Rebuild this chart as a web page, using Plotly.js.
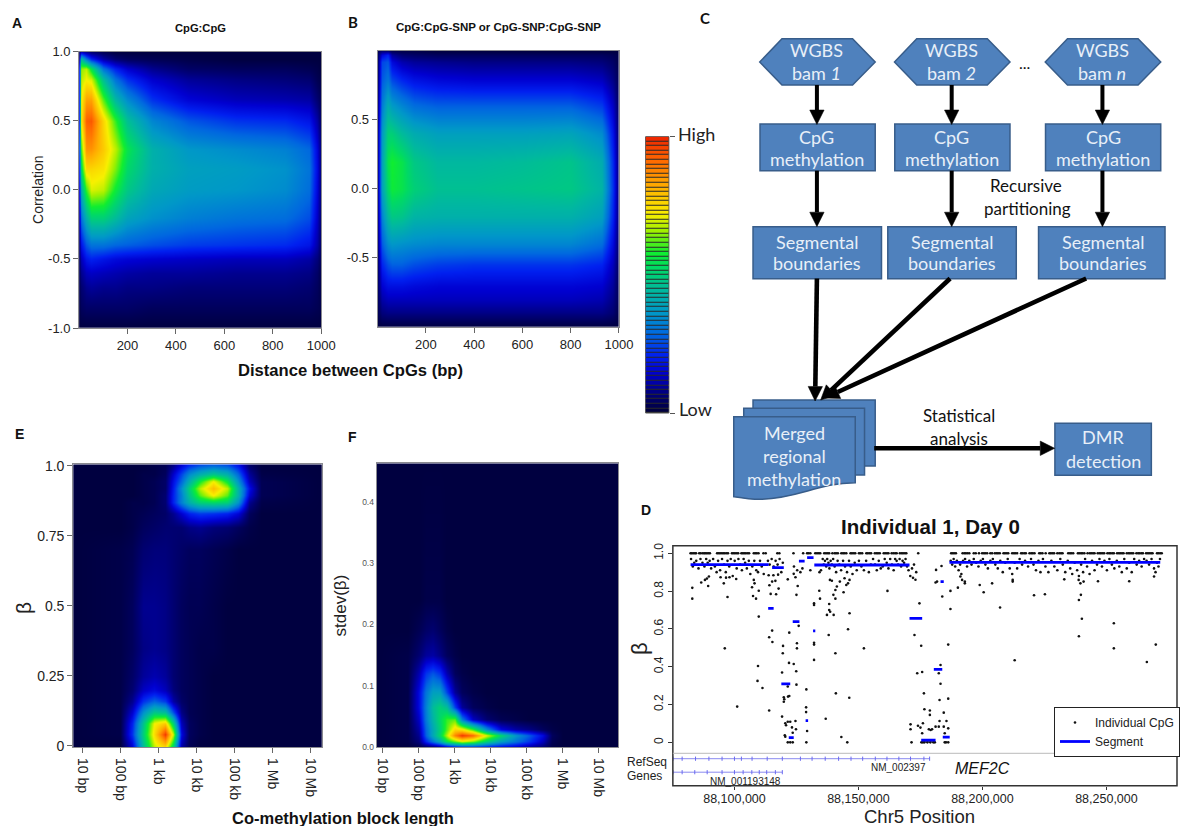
<!DOCTYPE html>
<html><head><meta charset="utf-8">
<script src="https://cdn.plot.ly/plotly-3.0.1.min.js"></script>
<style>html,body{margin:0;padding:0;background:#fff;overflow:hidden}#g{width:1180px;height:826px}</style>
</head><body><div id="g"></div>
<script>
const W=1180,H=826;
const scalePos=[0,.06,.14,.2,.28,.36,.44,.52,.58,.66,.72,.82,.92,1];
const scaleColors=['#000040','#00007a','#0000d0','#0020f0','#0068e0','#0098c8','#00b8a0','#00d868','#10ee30','#a0f000','#f8f000','#ffb000','#ff6800','#ee2800'];

// Panel A density
const aX=[0,10,30,50,100,150,200,300,450,650,850,950,985,1000];
const aY=[-1,-.85,-.7,-.6,-.5,-.4,-.2,0,.15,.3,.5,.65,.8,.88,.95,1];
const aZ=[
[0,0,0,0,0,0,0,0,0,0,0,0,0,0],
[.01,.03,.04,.04,.04,.04,.04,.03,.03,.03,.03,.03,.02,.01],
[.02,.05,.08,.09,.08,.08,.07,.07,.06,.06,.06,.05,.03,.01],
[.03,.08,.12,.13,.12,.11,.1,.09,.09,.08,.08,.07,.04,.01],
[.04,.12,.18,.2,.18,.16,.15,.14,.13,.12,.12,.1,.06,.02],
[.06,.18,.26,.3,.3,.28,.27,.25,.23,.22,.21,.18,.1,.03],
[.1,.3,.42,.5,.5,.45,.39,.35,.32,.3,.29,.25,.13,.04],
[.15,.42,.6,.7,.68,.57,.48,.4,.37,.36,.34,.29,.15,.05],
[.2,.54,.76,.76,.74,.64,.52,.42,.38,.37,.35,.3,.16,.05],
[.25,.62,.86,.86,.78,.68,.55,.42,.36,.34,.32,.28,.15,.05],
[.2,.74,.93,.94,.76,.6,.46,.33,.26,.22,.21,.18,.1,.03],
[.2,.72,.84,.84,.62,.44,.34,.22,.15,.12,.11,.1,.05,.02],
[.2,.68,.72,.7,.46,.3,.22,.14,.09,.07,.06,.05,.02,.01],
[.2,.65,.68,.55,.3,.2,.14,.08,.04,.03,.03,.02,.01,0],
[.1,.45,.3,.2,.1,.05,.03,.02,.01,0,0,0,0,0],
[.05,.12,.08,.05,.02,0,0,0,0,0,0,0,0,0]];

// Panel B density
const bX=[0,15,40,60,100,150,250,400,600,800,930,975,1000];
const bY=[-1,-.9,-.8,-.7,-.55,-.4,-.2,0,.2,.4,.6,.8,.92,.97,1];
const bZ=[
[0,0,0,0,0,0,0,0,0,0,0,0,0],
[.02,.06,.07,.07,.07,.07,.07,.07,.07,.07,.07,.05,.01],
[.03,.1,.12,.12,.12,.12,.12,.12,.12,.12,.11,.07,.02],
[.04,.14,.17,.17,.17,.16,.15,.15,.15,.15,.14,.09,.02],
[.05,.2,.25,.27,.27,.25,.23,.22,.22,.22,.2,.12,.03],
[.07,.26,.34,.36,.35,.34,.33,.33,.33,.33,.29,.16,.04],
[.09,.32,.44,.48,.47,.43,.42,.42,.42,.42,.38,.2,.05],
[.1,.38,.52,.57,.55,.5,.46,.46,.47,.48,.43,.22,.05],
[.1,.38,.55,.58,.55,.48,.44,.44,.45,.47,.41,.21,.05],
[.1,.36,.5,.5,.45,.41,.38,.38,.38,.39,.34,.18,.04],
[.08,.31,.41,.37,.33,.29,.27,.27,.27,.27,.23,.13,.03],
[.06,.26,.3,.24,.2,.17,.15,.14,.14,.14,.12,.07,.02],
[.05,.24,.26,.16,.11,.09,.08,.07,.07,.07,.06,.04,.01],
[.04,.15,.2,.09,.05,.04,.03,.03,.03,.03,.03,.02,.01],
[.02,.05,.05,.02,.01,.01,0,0,0,0,0,0,0]];

// Panel E density (x = log10 block length)
const eX=[.75,2,2.3,2.6,2.9,3.17,3.4,3.6,3.8,4.1,4.44,4.8,5.1,5.4,5.7,7.3];
const eY=[-.005,.04,.08,.12,.16,.2,.25,.35,.5,.7,.78,.83,.87,.895,.92,.945,.97,1.005];
const eZ=[
[0,0,.14,.45,.68,.75,.5,.1,.02,0,0,0,0,0,0,0],
[0,.01,.22,.5,.75,.98,.68,.16,.03,.01,0,0,0,0,0,0],
[0,.01,.2,.47,.72,.78,.5,.12,.03,.01,0,0,0,0,0,0],
[0,.01,.14,.35,.48,.45,.25,.07,.02,.01,0,0,0,0,0,0],
[0,.01,.08,.22,.28,.23,.1,.04,.02,.01,0,0,0,0,0,0],
[0,.01,.05,.13,.16,.12,.06,.03,.02,.01,0,0,0,0,0,0],
[0,.01,.04,.09,.11,.09,.05,.03,.02,.01,0,0,0,0,0,0],
[0,.01,.03,.07,.08,.07,.05,.03,.02,.01,.01,0,0,0,0,0],
[0,.01,.03,.08,.08,.07,.05,.03,.02,.02,.01,0,0,0,0,0],
[0,.01,.02,.05,.06,.06,.05,.04,.03,.03,.02,.01,0,0,0,0],
[0,0,.01,.03,.04,.05,.05,.05,.07,.08,.06,.05,.03,.01,0,0],
[0,0,.01,.02,.03,.04,.08,.14,.2,.23,.22,.2,.15,.03,0,0],
[0,0,.01,.01,.02,.05,.2,.32,.42,.5,.52,.5,.35,.08,.01,0],
[0,0,0,.01,.02,.05,.2,.32,.47,.62,.72,.62,.42,.14,.02,0],
[0,0,0,.01,.02,.04,.19,.34,.5,.68,.8,.68,.42,.17,.02,0],
[0,0,0,.01,.02,.04,.17,.28,.42,.58,.72,.56,.35,.12,.02,0],
[0,0,0,.01,.01,.03,.14,.24,.34,.42,.48,.42,.28,.09,.01,0],
[0,0,0,0,.01,.02,.07,.14,.2,.24,.26,.24,.17,.04,0,0]];

// Panel F density
const fX=[.84,1.7,2,2.2,2.4,2.6,2.8,3,3.2,3.5,3.9,4.3,4.7,5.1,5.45,5.7,6,7.56];
const fY=[0,.01,.02,.03,.045,.065,.09,.12,.15,.19,.24,.4625];
const fZ=[
[0,0,.01,.02,.03,.05,.1,.15,.16,.18,.16,.14,.12,.08,.05,.01,0,0],
[0,.01,.06,.2,.3,.4,.55,.62,.7,.64,.5,.38,.3,.22,.12,.02,0,0],
[0,.01,.08,.27,.4,.52,.68,.88,.98,.92,.7,.52,.36,.26,.16,.03,0,0],
[0,.01,.1,.28,.4,.5,.62,.76,.74,.6,.34,.16,.1,.07,.03,.01,0,0],
[0,.01,.13,.31,.43,.52,.6,.62,.32,.13,.05,.02,.01,0,0,0,0,0],
[0,.01,.16,.32,.45,.5,.46,.24,.09,.03,.01,0,0,0,0,0,0,0],
[0,.01,.16,.3,.38,.38,.24,.09,.03,.01,0,0,0,0,0,0,0,0],
[0,.01,.11,.22,.26,.22,.11,.03,.01,0,0,0,0,0,0,0,0,0],
[0,.01,.05,.09,.1,.07,.03,.01,0,0,0,0,0,0,0,0,0,0],
[0,0,.02,.04,.05,.03,.01,0,0,0,0,0,0,0,0,0,0,0],
[0,0,0,.01,.01,.01,0,0,0,0,0,0,0,0,0,0,0,0],
[0,0,0,0,0,0,0,0,0,0,0,0,0,0,0,0,0,0]];

const barLevels=[0,.017,.034,.051,.068,.085,.102,.119,.136,.153,.169,.186,.203,.22,.237,.254,.271,.288,.305,.322,.339,.356,.373,.39,.407,.424,.441,.458,.475,.492,.508,.525,.542,.559,.576,.593,.61,.627,.644,.661,.678,.695,.712,.729,.746,.763,.78,.797,.814,.831,.847,.864,.881,.898,.915,.932,.949,.966,.983,1];

// Panel D: scattered CpGs, position in kb after 88 Mb
const cpgKb=[83,83,86.6,88.1,88.9,89.4,89.7,94.4,95.7,96.6,98,97.2,96.1,100.7,101.1,107.8,108.1,107.1,109.8,107.5,108.7,109.8,109.5,109.3,111.3,114,114.1,115.2,116.5,114.6,116.8,117.8,113.8,115.7,117.6,114,115.2,115.3,119.6,119.5,119.2,122.1,122,123.9,124.9,125.2,125.2,125.9,125,125.5,124.6,123.9,121.5,125,119.9,120.1,119.9,121.6,122.1,121.5,119.2,120.5,121.5,122.5,124.6,120.8,120.3,120.5,121.5,122.5,123.5,123.2,124.8,123.5,129,128.9,128.9,129.3,129,132.1,132.1,132.1,132.1,132.1,134.2,134.5,136.8,137.3,138.2,138.2,138.6,140,138,140.7,139.9,140.7,141.3,140.7,140.9,143.1,145.5,146.3,145.8,146.4,144,145.1,145.8,146.4,144.4,142.5,139.3,138.5,152.2,161.7,174.6,172.6,175.3,173.7,175.7,176.4,176.6,178.8,178.8,171,171,171.4,174,175,176,175.7,178.4,179.1,179.7,181.1,182.4,182.7,184.4,182.7,186.2,183.1,182.4,183.1,186.2,183.8,181.1,181.7,181.3,183.5,187.1,187.1,190.1,185.5,184.4,186.2,184.8,184.8,185.3,186.2,175.4,176,176.6,177.2,177.8,178.4,179,179.6,180.2,180.8,198.9,200.5,203.9,207.1,213,220.8,225.2,238.9,239.7,240.1,238.9,253,253,266.3,269.9,269.2,259.2,246.6,212.2,212.2,191.1,191.8,192.9,192.9,233,239.5,240.8,238.8];
const cpgBeta=[.817,.76,.845,.859,.866,.827,.877,.873,.841,.871,.873,.769,.497,.864,.189,.859,.841,.82,.802,.774,.76,.665,.404,.325,.287,.168,.831,.85,.854,.785,.783,.813,.884,.884,.887,.556,.591,.531,.51,.471,.369,.58,.42,.414,.376,.524,.497,.616,.78,.827,.873,.891,.862,.305,.238,.228,.215,.242,.245,.295,.136,.101,.109,.109,.113,.09,.037,.03,0,0,0,.079,.069,.051,.28,.185,.16,.06,0,.735,.727,.527,.517,.436,.802,.76,.125,.674,.732,.7,.691,.674,.568,.806,.78,.76,.824,.471,.259,.028,0,.236,.598,.683,.794,.832,.841,.859,.868,.85,.855,.859,.497,.801,.735,.568,.511,.365,.372,.259,.175,.168,.145,.095,.069,0,.088,.078,.101,.048,.069,.065,.069,.083,.083,.113,.157,.224,.231,.31,.365,.409,.517,.771,.845,.85,.912,.933,.801,.705,.818,.113,.083,.074,.048,0,0,0,0,0,0,.01,0,.01,0,.01,0,0,.832,.794,.841,.713,.434,.778,.783,.753,.78,.654,.561,.63,.497,.425,.517,.877,.852,.852,.859,.85,.877,.859,.85,.841,.862,.841,.85,.859];
const bandKb=[82.5,83.2,83.8,84.6,85.5,86.3,87.1,87.9,88.6,89.2,90,90.6,91.4,92.1,92.8,93.4,94.2,95,95.8,96.5,97.2,97.9,98.5,99.3,100.1,100.9,101.6,102.3,103,103.7,104.3,105,105.8,106.4,107.2,108,108.8,109.5,110.3,111,111.8,113.5,114.2,115,115.8,116.6,117.4,118.2,118.9,119.5,124,125.3,126.6,127.4,130.6,134.3,134.9,135.6,136,136.5,137,137.4,137.9,138.3,138.8,139.3,139.8,140.4,141,141.6,142.3,143,143.8,144.6,145.4,146.2,146.9,147.6,148.5,149.3,150.2,151.2,152.2,153.1,154.2,155,155.9,156.7,157.4,158.2,159,159.8,160.6,161.4,162.1,162.8,163.5,164.2,164.8,165.4,166,166.6,167.2,167.8,168.4,169,169.6,170.2,170.9,171.6,172.4,173.3,172,173,187.2,187.8,188.4,189,189.7,190.4,191,191.5,192.2,193,193.8,194.7,195.6,196.5,197.5,198.4,199.3,200.2,201.2,202.2,203.2,204.2,205.2,206.2,207.2,208.2,209.2,210.2,211,212,213,214,215,216,217.2,218.4,219.6,220.6,221.6,222.6,223.4,224.4,225.4,226.6,227.8,229,230.2,231.4,232.4,233.4,234.4,235.4,236.2,237.2,238.2,238.9,239.8,240.6,241.4,242.2,243.2,244.2,245.2,246.2,247.2,248.2,249.2,250.2,251.2,252.2,253.2,254.2,255.2,256.2,257.2,258.2,259.2,260.2,261.2,262.2,263.2,264.2,265.2,266.2,267.2,268.2,269.2,269.8,270.4,271,271.6];
const bandBeta=[.97,.93,.95,.96,.92,.97,.95,.93,.97,.95,.96,.92,.97,.93,.9,.96,.91,.97,.94,.9,.96,.93,.97,.88,.96,.92,.97,.94,.91,.97,.95,.92,.96,.89,.93,.96,.91,.9,.96,.93,.89,.96,.94,.97,.93,.96,.94,.97,.9,.95,.93,.91,.9,.92,.91,.9,.91,.97,.94,.96,.93,.97,.95,.92,.96,.94,.97,.93,.9,.96,.94,.91,.96,.93,.9,.96,.93,.89,.95,.91,.96,.93,.91,.96,.9,.94,.97,.94,.91,.96,.92,.93,.97,.95,.92,.97,.94,.91,.97,.96,.94,.97,.93,.96,.95,.97,.93,.91,.88,.92,.94,.9,.87,.86,.96,.94,.97,.93,.96,.91,.94,.89,.96,.97,.93,.96,.94,.97,.95,.93,.96,.97,.94,.92,.96,.97,.94,.92,.96,.9,.95,.97,.92,.89,.95,.92,.97,.94,.96,.93,.97,.94,.91,.96,.9,.97,.93,.9,.96,.93,.91,.97,.94,.9,.96,.92,.89,.95,.91,.88,.94,.9,.97,.93,.89,.96,.91,.94,.97,.93,.96,.91,.97,.94,.92,.96,.93,.9,.97,.92,.95,.9,.97,.94,.96,.93,.97,.96,.94,.97,.92,.9,.95,.93,.97];
const topKb=[82.3,82.8,83.4,84,84.5,85.8,86.4,87.2,87.8,88.3,88.9,89.5,90.1,93,93.6,94.2,94.9,95.5,96.1,96.8,97.4,99,99.6,100.2,100.9,101.5,102.8,103.4,104,104.6,105.3,105.9,107.8,108.4,109,109.7,111.7,112.6,117.3,118.1,123.8,127.7,129.3,129.9,130.6,132.6,133.3,134,134.6,136.2,136.9,137.6,138.2,139.5,140.4,141,141.7,143.1,143.8,144.4,145.1,146.8,147.4,148.1,148.7,150.2,150.8,151.5,153.2,153.8,154.5,155.1,156.6,157.3,157.9,158.6,160.2,160.8,161.5,162.1,163.4,164.1,164.8,165.4,166.7,167.4,168,168.7,169.3,174.1,187.4,188,188.6,189.3,192,192.7,193.3,194,194.7,196.5,197.3,198.6,199.9,200.6,201.2,201.9,203.2,203.9,205,205.7,206.3,207,208.5,209.1,209.8,210.4,212,212.7,213.3,214,215.6,216.2,216.9,217.5,219,219.7,220.3,221,222.9,223.5,224.2,225.5,227,227.6,228.3,228.9,230.2,231,231.7,232.3,234.6,235.3,235.9,236.6,238.5,239.1,239.8,240.4,241.1,242.4,243.3,243.9,244.6,245.2,246.5,247.2,247.8,248.5,249.1,250.4,251.1,251.7,252.4,253,254.3,255,255.6,256.3,256.9,258.2,258.9,259.5,260.2,260.8,262.1,262.8,263.4,264.1,264.7,266,266.7,267.3,268,268.6,270.4,271,271.7,272.3];

// Panel D segments
const segStart=[82.3,115.2,113.6,118.9,123.5,121.9,126,129.3,131.7,128.7,132.2,170.6,175.3,180.4,183.1,184,186.7];
const segEnd=[113.8,119.9,115.8,122.5,126.2,123.9,128.3,131.9,132.6,129.7,170.6,175.7,181.1,183.8,184.4,186.8,271.7];
const segBeta=[.94,.924,.709,.309,.638,.025,.958,.977,.589,.115,.938,.656,.012,.386,.85,.028,.952];

// Panel D gene track
const geneA=[75.2,78.9,84.3,89.7,95,100,102.8,107.1,113.2,119.3,126.6,131.3,136.6,142,147,151.7,156.8,161.5,166.3,171,176.4,178.7];
const geneB=[75.2,78.9,84,89,95,100,103.5,107,110,113,116.5,119.3];

const scale=scalePos.map((p,i)=>[p,scaleColors[i]]);
const sans='"Liberation Sans",Arial,sans-serif', cal='Lato,"Open Sans",sans-serif';
const dx=(a,b)=>[a/W,b/W], dy=(t,b)=>[1-b/H,1-t/H];
const hm=(x,y,z,n)=>({type:'heatmap',x,y,z,zmin:0,zmax:1,zsmooth:'best',colorscale:scale,showscale:false,hoverinfo:'skip',xaxis:'x'+n,yaxis:'y'+n});

const segX=[],segY=[];
segStart.forEach((s,i)=>{segX.push(s,segEnd[i],null);segY.push(segBeta[i],segBeta[i],null);});
const allKb=cpgKb.concat(bandKb,topKb);
const allBeta=cpgBeta.concat(bandBeta,topKb.map(()=>1));

const traces=[
 hm(aX,aY,aZ,''),hm(bX,bY,bZ,'2'),hm(eX,eY,eZ,'3'),hm(fX,fY,fZ,'4'),
 {type:'heatmap',x:[0],y:barLevels.map((v,i)=>i),z:barLevels.map(v=>[v]),zmin:0,zmax:1,colorscale:scale,showscale:false,ygap:1,hoverinfo:'skip',xaxis:'x6',yaxis:'y6'},
 {type:'scatter',mode:'markers',name:'Individual CpG',x:allKb,y:allBeta,marker:{size:2.6,color:'#111'},xaxis:'x5',yaxis:'y5',hoverinfo:'skip'},
 {type:'scatter',mode:'lines',name:'Segment',x:segX,y:segY,line:{color:'#0000ff',width:2.8},xaxis:'x5',yaxis:'y5',hoverinfo:'skip',connectgaps:false},
 {type:'scatter',mode:'lines+markers',showlegend:false,x:geneA,y:geneA.map(()=>2),line:{color:'#8a8af0',width:1},marker:{symbol:'line-ns',size:3,line:{color:'#6a6af0',width:1}},xaxis:'x5',yaxis:'y7',hoverinfo:'skip'},
 {type:'scatter',mode:'lines+markers',showlegend:false,x:geneB,y:geneB.map(()=>1),line:{color:'#8a8af0',width:1},marker:{symbol:'line-ns',size:3,line:{color:'#6a6af0',width:1}},xaxis:'x5',yaxis:'y7',hoverinfo:'skip'}
];

const grey='#8a8a90';
const tf=(s,c)=>({family:sans,size:s,color:c||'#222'});
const frame={showline:true,mirror:true,linecolor:grey,linewidth:1,ticks:'outside',ticklen:5,tickcolor:'#666',showgrid:false,zeroline:false,fixedrange:true};
const logTicks=[1,2,3,4,5,6,7], logText=['10 bp','100 bp','1 kb','10 kb','100 kb','1 Mb','10 Mb'];
const ax=(o)=>Object.assign({},frame,o);
const layout={
 width:W,height:H,margin:{l:0,r:0,t:0,b:0},paper_bgcolor:'#fff',plot_bgcolor:'rgba(0,0,0,0)',
 font:{family:sans},showlegend:true,
 legend:{x:1056/W,y:1-707/H,xanchor:'left',yanchor:'top',bgcolor:'#fff',bordercolor:'#222',borderwidth:1,font:{family:sans,size:12,color:'#222'},tracegroupgap:0},
 xaxis:ax({domain:dx(79.2,321.7),range:[0,1000],tickvals:[200,400,600,800,1000],tickfont:tf(13),anchor:'y'}),
 yaxis:ax({domain:dy(51.7,328),range:[-1,1],tickvals:[-1,-.5,0,.5,1],ticktext:['-1.0','-0.5','0.0','0.5','1.0'],tickfont:tf(13),anchor:'x'}),
 xaxis2:ax({domain:dx(378.3,620),range:[0,1000],tickvals:[200,400,600,800,1000],tickfont:tf(13),anchor:'y2'}),
 yaxis2:ax({domain:dy(50.7,327),range:[-1,1],tickvals:[-.5,0,.5],ticktext:['-0.5','0.0','0.5'],tickfont:tf(13),anchor:'x2'}),
 xaxis3:ax({domain:dx(73.3,322.3),range:[.753,7.305],tickvals:logTicks,ticktext:logText,tickangle:90,tickfont:tf(14),ticklabelstandoff:2,anchor:'y3'}),
 yaxis3:ax({domain:dy(464.3,747.3),range:[-.005,1.005],tickvals:[0,.25,.5,.75,1],ticktext:['0','0.25','0.5','0.75','1.0'],tickfont:tf(14),anchor:'x3'}),
 xaxis4:ax({domain:dx(377.3,619.3),range:[.84,7.56],tickvals:logTicks,ticktext:logText,tickangle:90,tickfont:tf(14),ticklabelstandoff:2,anchor:'y4'}),
 yaxis4:ax({domain:dy(463.3,747.3),range:[0,.4625],tickvals:[0,.1,.2,.3,.4],ticktext:['0.0','0.1','0.2','0.3','0.4'],ticks:'',tickfont:tf(8.5,'#555'),anchor:'x4'}),
 xaxis5:{domain:dx(674,1179),range:[75.16,278.46],tickvals:[100,150,200,250],ticktext:['88,100,000','88,150,000','88,200,000','88,250,000'],tickfont:tf(12.5),ticks:'outside',ticklen:3,tickcolor:'#333',showgrid:false,zeroline:false,anchor:'y7',fixedrange:true,ticklabelstandoff:-2},
 yaxis5:{domain:dy(545.7,753.3),range:[-.058,1.04],tickvals:[0,.2,.4,.6,.8,1],ticktext:['0','0.2','0.4','0.6','0.8','1.0'],tickangle:-90,tickfont:tf(12),ticks:'outside',ticklen:4,tickcolor:'#333',showgrid:false,zeroline:false,anchor:'x5',fixedrange:true},
 yaxis7:{domain:dy(753.3,785.7),range:[0,2.4],visible:false,anchor:'x5',fixedrange:true},
 xaxis6:{domain:dx(646.7,670),range:[-.5,.5],showticklabels:false,ticks:'',showline:false,showgrid:false,zeroline:false,anchor:'y6',fixedrange:true},
 yaxis6:{domain:dy(136.7,413),range:[-.5,59.5],side:'right',tickvals:[-.5,59.5],showticklabels:false,ticks:'outside',ticklen:5,tickcolor:'#555',showgrid:false,zeroline:false,showline:false,anchor:'x6',fixedrange:true},
 shapes:[],annotations:[]
};

const P=(x,y)=>(x/W)+','+(1-y/H);
const S=layout.shapes, A=layout.annotations;
const poly=(pts,fill,line,lw,layer)=>S.push({type:'path',xref:'paper',yref:'paper',layer:layer||'above',path:'M'+pts.map(p=>P(p[0],p[1])).join('L')+'Z',fillcolor:fill,line:{color:line||fill,width:lw===undefined?1:lw}});
const BLUE='#4f81bd',EDGE='#385d8a';
const rect=(x0,y0,x1,y1)=>poly([[x0,y0],[x1,y0],[x1,y1],[x0,y1]],BLUE,EDGE,1.5);
const arrow=(x0,y0,x1,y1,w)=>{
 const L=Math.hypot(x1-x0,y1-y0),ux=(x1-x0)/L,uy=(y1-y0)/L,hl=14.5,hw=7.2,bx=x1-ux*hl,by=y1-uy*hl;
 S.push({type:'line',xref:'paper',yref:'paper',x0:x0/W,y0:1-y0/H,x1:bx/W,y1:1-by/H,line:{color:'#000',width:w||4},layer:'above'});
 poly([[x1,y1],[bx-uy*hw,by+ux*hw],[bx+uy*hw,by-ux*hw]],'#000','#000',.5);
};
const T=(text,x,y,size,color,fam,extra)=>A.push(Object.assign({text,x:x/W,y:1-y/H,xref:'paper',yref:'paper',showarrow:false,xanchor:'center',yanchor:'middle',font:{size,color:color||'#111',family:fam||sans}},extra||{}));
const LT='#e8eff8';

// colour bar backing, so the band gaps read as dark lines
poly([[646.7,136.7],[670,136.7],[670,413],[646.7,413]],'#2a2a2a','#555',1,'below');
// panel D frame
S.push({type:'rect',xref:'paper',yref:'paper',x0:674/W,x1:1179/W,y0:1-785.7/H,y1:1-545.7/H,line:{color:'#333',width:1.5},layer:'above'});
S.push({type:'line',xref:'paper',yref:'paper',x0:674/W,x1:1179/W,y0:1-753.3/H,y1:1-753.3/H,line:{color:'#bbb',width:1},layer:'above'});

// flowchart nodes
[[761,876.7],[896,1011.7],[1047,1162.7]].forEach((c,i)=>{
 const a=c[0],b=c[1];
 poly([[a,62],[a+22.3,38.7],[b-22.7,38.7],[b,62],[b-22.7,85],[a+22.3,85]],BLUE,EDGE,1.5);
 rect(a+.3,124,b,170.7);
});
rect(754.3,226.7,883,278.7);rect(889.3,226.7,1018,278.7);rect(1040.3,226.7,1167,278.7);
rect(754.3,400,876.7,466);rect(745,408.3,866,475);
S.push({type:'path',xref:'paper',yref:'paper',layer:'above',fillcolor:BLUE,line:{color:EDGE,width:1.5},
 path:'M'+P(735,416.7)+'L'+P(856.7,416.7)+'L'+P(856.7,482.7)+'C'+P(820,483)+' '+P(800,498)+' '+P(763,499.3)+'C'+P(752,499.5)+' '+P(743,498)+' '+P(735,496.7)+'Z'});
rect(1056.7,423.3,1153.3,475.3);
[818.3,953.3,1104.3].forEach(x=>{arrow(x,85,x,124.5);arrow(x,170.7,x,226.7);});
arrow(818.3,278.5,816.5,401,4.6);arrow(951.7,278.5,822,400,4.6);arrow(1088,278.5,826,398,4.6);
arrow(875.7,448.3,1056.5,448.3,4.6);

// flowchart text
[['1',817.7],['2',953],['<i>n</i>',1104]].forEach(r=>{
 T('WGBS',r[1],50,18,LT,cal);
 T('bam '+(r[0]==='<i>n</i>'?r[0]:'<i>'+r[0]+'</i>'),r[1],73,18,LT,cal);
});
[818.3,953.3,1105].forEach(x=>{T('CpG',x,136.5,18,LT,cal);T('methylation',x,159.5,18,LT,cal);});
[818.3,953.3,1104.5].forEach(x=>{T('Segmental',x,241.5,18,LT,cal);T('boundaries',x,263.5,18,LT,cal);});
T('Merged',795.7,432.7,18,LT,cal);T('regional',795.7,456,18,LT,cal);T('methylation',795.7,479,18,LT,cal);
T('DMR',1105,437.3,18,LT,cal);T('detection',1105,460.7,18,LT,cal);
T('...',1026.7,62,16,'#111',cal);
T('Recursive',1028,185.7,17,'#111',cal);T('partitioning',1029,209,17,'#111',cal);
T('Statistical',961,415.7,17,'#111',cal);T('analysis',961,438.3,17,'#111',cal);

// panel letters and titles
T('<b>A</b>',16.7,23,14);
T('<b>B</b>',354,22,15,'#111',cal);T('<b>C</b>',706,18,15,'#111',cal);
T('<b>D</b>',646.7,510,14);T('<b>E</b>',19.7,434,14);T('<b>F</b>',353,436.7,14);
T('<b>CpG:CpG</b>',201,28.3,11.2);
T('<b>CpG:CpG-SNP or CpG-SNP:CpG-SNP</b>',499,27,11.5);
T('Correlation',38,190,14,'#222',sans,{textangle:-90});
T('<b>Distance between CpGs (bp)</b>',351.5,370,16.6);
T('<b>Co-methylation block length</b>',344,818,16.5);
T('β',23,608,21,'#222',sans,{textangle:-90});
T('stdev(β)',341,605,17,'#222',sans,{textangle:-90});
T('β',640,648,22,'#222',sans,{textangle:-90});
T('High',698,134,18,'#222',cal);T('Low',697,408.5,18,'#222',cal);
T('<b>Individual 1, Day 0</b>',932.5,526,20.5);
T('Chr5 Position',921,816,18.5,'#222');
T('RefSeq',648,761.7,12,'#222');T('Genes',646,776,12,'#222');
T('NM_001193148',746.7,781,10,'#222');T('NM_002397',900,767.7,10,'#222');
T('<i>MEF2C</i>',984,768,16,'#111');

Plotly.newPlot('g',traces,layout,{displayModeBar:false,responsive:false});
</script></body></html>
